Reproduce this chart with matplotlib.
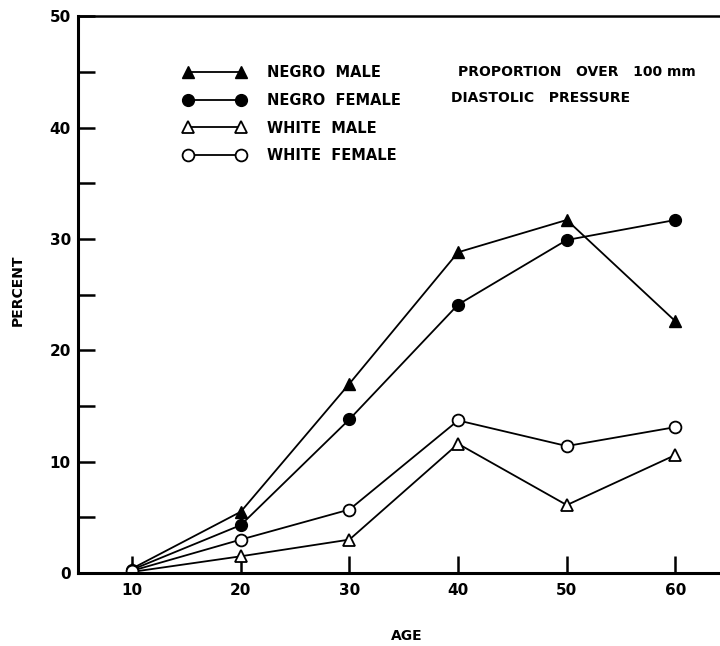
import numpy as np
import matplotlib.pyplot as plt

# данные
age = [10, 20, 30, 40, 50, 60]
negro_male = [0.4, 5.5, 17.0, 28.8, 31.7, 22.6]
negro_female = [0.3, 4.3, 13.8, 24.1, 29.9, 31.7]
white_male = [0.1, 1.5, 3.0, 11.6, 6.1, 10.6]
white_female = [0.2, 3.0, 5.7, 13.7, 11.4, 13.1]

plt.rcParams['font.family'] = ['DejaVu Sans']
plt.rcParams['font.weight'] = 'bold'

fig = plt.figure(figsize=(7.2, 6.46), dpi=100)
ax = fig.add_axes([0.108, 0.113, 0.892, 0.862])

lw = 1.3
ms = 8.5
ax.plot(age, negro_male, color='black', lw=lw, marker='^', ms=ms + 0.5,
        mfc='black', mec='black', label='NEGRO  MALE')
ax.plot(age, negro_female, color='black', lw=lw, marker='o', ms=ms,
        mfc='black', mec='black', label='NEGRO  FEMALE')
ax.plot(age, white_male, color='black', lw=lw, marker='^', ms=ms + 0.5,
        mfc='white', mec='black', mew=1.3, label='WHITE  MALE')
ax.plot(age, white_female, color='black', lw=lw, marker='o', ms=ms,
        mfc='white', mec='black', mew=1.3, label='WHITE  FEMALE')

ax.set_xlim(5, 64.1)
ax.set_ylim(0, 50)
ax.set_xticks(age)
ax.set_yticks(np.arange(0, 51, 10))
ax.set_yticks(np.arange(5, 50, 10), minor=True)

ax.spines['right'].set_visible(False)
ax.spines['left'].set_linewidth(2.2)
ax.spines['bottom'].set_linewidth(2.2)
ax.spines['top'].set_linewidth(1.8)

ax.tick_params(axis='both', which='both', direction='in', length=12, width=1.8,
               labelsize=11)
ax.tick_params(axis='x', pad=7)
ax.tick_params(axis='y', pad=5)

ax.set_xlabel('AGE', fontsize=10, fontweight='bold')
ax.xaxis.set_label_coords(0.512, -0.100)
ax.set_ylabel('PERCENT', fontsize=10, fontweight='bold')
ax.yaxis.set_label_coords(-0.083, 0.508)

leg = ax.legend(loc='upper left', bbox_to_anchor=(0.155, 0.923), frameon=False,
                numpoints=2, handlelength=4.3, fontsize=10.5, labelspacing=0.88,
                handletextpad=1.45, borderaxespad=0)

ax.text(0.592, 0.899, 'PROPORTION   OVER   100 mm', transform=ax.transAxes,
        fontsize=10, fontweight='bold', va='center', ha='left')
ax.text(0.581, 0.853, 'DIASTOLIC   PRESSURE', transform=ax.transAxes,
        fontsize=10, fontweight='bold', va='center', ha='left')

plt.savefig('out.png', dpi=100)
